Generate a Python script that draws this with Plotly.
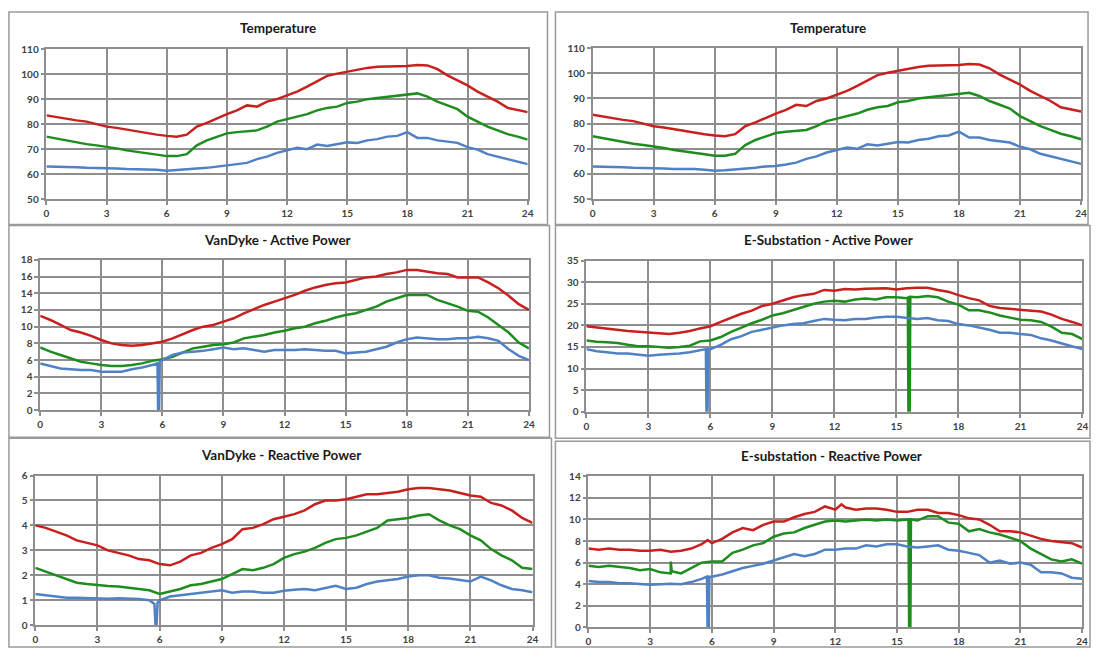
import plotly.graph_objects as go

# ---------------- data ----------------
HOURS = [i * 0.5 for i in range(49)]
X_TICKS = [0, 3, 6, 9, 12, 15, 18, 21, 24]

TEMP_RED = [83.5, 82.8, 82.0, 81.5, 81.0, 80.0, 79.0, 78.5, 77.8, 77.0, 76.3, 75.8, 75.3, 75.0, 75.8, 79.0,
            80.5, 82.3, 84.0, 85.5, 87.5, 87.0, 89.0, 90.0, 91.5, 93.0, 95.0, 97.0, 99.3, 100.2, 101.0, 102.0,
            102.5, 103.0, 103.0, 103.0, 103.3, 103.7, 103.5, 102.0, 99.5, 97.5, 95.5, 93.0, 91.0, 89.0, 86.5, 85.5, 84.8]
TEMP_GREEN = [75.0, 74.2, 73.5, 72.8, 72.0, 71.5, 71.0, 70.3, 69.5, 69.0, 68.5, 67.8, 67.2, 67.2, 68.0, 71.5,
              73.5, 75.0, 76.3, 76.8, 77.2, 77.5, 79.0, 81.0, 82.0, 83.0, 84.0, 85.5, 86.5, 87.0, 88.5, 89.0,
              90.0, 90.5, 91.0, 91.5, 92.0, 92.3, 91.0, 89.0, 87.5, 86.0, 83.0, 81.0, 79.0, 77.5, 76.0, 75.0, 73.8]
TEMP_BLUE = [63.0, 63.0, 63.0, 62.7, 62.5, 62.5, 62.5, 62.2, 62.0, 62.0, 62.0, 61.7, 61.3, 61.5, 61.8, 62.2,
             62.5, 63.0, 63.2, 63.8, 64.5, 66.0, 67.0, 68.5, 69.5, 70.5, 70.0, 71.8, 71.3, 72.0, 72.7, 72.5,
             73.5, 74.0, 75.0, 75.3, 76.8, 74.5, 74.5, 73.5, 73.0, 72.5, 70.8, 69.8, 68.0, 67.0, 66.0, 65.0, 64.0]

VDA_RED = [11.3, 10.8, 10.2, 9.6, 9.3, 8.9, 8.4, 8.0, 7.8, 7.7, 7.8, 8.0, 8.2, 8.6, 9.1, 9.6,
           10.0, 10.2, 10.6, 11.0, 11.6, 12.1, 12.6, 13.0, 13.4, 13.8, 14.3, 14.7, 15.0, 15.2, 15.3, 15.6,
           15.9, 16.0, 16.3, 16.5, 16.8, 16.8, 16.6, 16.4, 16.3, 15.9, 15.9, 15.9, 15.3, 14.6, 13.7, 12.7, 12.0]
VDA_GREEN = [7.5, 7.0, 6.6, 6.2, 5.8, 5.6, 5.4, 5.3, 5.3, 5.4, 5.6, 5.9, 6.1, 6.4, 6.9, 7.4,
             7.6, 7.8, 7.9, 8.1, 8.6, 8.8, 9.0, 9.3, 9.5, 9.8, 10.0, 10.4, 10.7, 11.1, 11.4, 11.6,
             12.0, 12.4, 13.0, 13.4, 13.8, 13.8, 13.8, 13.2, 12.8, 12.4, 11.9, 11.8, 11.1, 10.2, 9.3, 8.1, 7.4]
VDA_BLUE = [5.6, 5.3, 5.0, 4.9, 4.8, 4.8, 4.6, 4.6, 4.6, 4.9, 5.1, 5.4, 6.0, 6.6, 6.9, 7.0,
            7.1, 7.3, 7.5, 7.3, 7.4, 7.2, 7.0, 7.2, 7.2, 7.2, 7.3, 7.2, 7.1, 7.1, 6.8, 6.9,
            7.0, 7.3, 7.6, 8.1, 8.5, 8.7, 8.6, 8.5, 8.5, 8.6, 8.6, 8.8, 8.6, 8.3, 7.3, 6.5, 6.0]
VDA_BLUE_DIP = [(5.76, 5.6), (5.79, 0.0), (5.84, 0.0), (5.87, 5.8)]

ESA_RED = [19.8, 19.5, 19.2, 18.9, 18.7, 18.5, 18.3, 18.2, 18.0, 18.3, 18.7, 19.3, 19.8, 20.8, 21.8, 22.7,
           23.4, 24.5, 25.0, 25.7, 26.5, 27.0, 27.3, 28.2, 28.0, 28.4, 28.3, 28.5, 28.6, 28.6, 28.3, 28.6,
           28.7, 28.7, 28.2, 27.8, 27.0, 26.3, 25.8, 24.5, 24.0, 23.8, 23.5, 23.3, 23.2, 22.5, 21.5, 20.8, 20.0]
ESA_GREEN = [16.5, 16.2, 16.1, 15.9, 15.5, 15.2, 15.2, 15.0, 14.8, 15.0, 15.3, 16.3, 16.5, 17.3, 18.5, 19.5,
             20.5, 21.3, 22.3, 22.8, 23.5, 24.2, 25.0, 25.5, 25.7, 25.5, 26.0, 26.2, 26.0, 26.5, 26.5, 26.3,
             26.5, 26.8, 26.5, 25.5, 24.8, 23.5, 23.5, 23.0, 22.3, 21.8, 21.3, 21.2, 20.8, 19.7, 18.3, 18.0, 16.8]
ESA_GREEN_DIP = [(15.55, 26.4), (15.58, 0.0), (15.64, 0.0), (15.67, 26.6)]
ESA_BLUE = [14.5, 14.0, 13.8, 13.5, 13.5, 13.3, 13.0, 13.2, 13.3, 13.5, 13.8, 14.2, 14.5, 15.5, 16.8, 17.5,
            18.5, 19.0, 19.5, 20.0, 20.3, 20.5, 21.0, 21.5, 21.3, 21.2, 21.5, 21.5, 21.8, 22.0, 22.0, 21.8,
            21.5, 21.7, 21.2, 21.0, 20.3, 20.0, 19.5, 19.0, 18.3, 18.3, 18.0, 17.8, 17.0, 16.5, 15.8, 15.2, 14.5]
ESA_BLUE_DIP = [(5.78, 14.5), (5.81, 0.0), (5.86, 0.0), (5.9, 14.6)]

VDR_RED = [4.0, 3.9, 3.75, 3.6, 3.4, 3.3, 3.2, 3.0, 2.9, 2.8, 2.65, 2.6, 2.45, 2.4, 2.55, 2.8,
           2.9, 3.1, 3.25, 3.45, 3.85, 3.9, 4.05, 4.25, 4.35, 4.45, 4.6, 4.85, 5.0, 5.0, 5.05, 5.15,
           5.25, 5.25, 5.3, 5.35, 5.45, 5.5, 5.5, 5.45, 5.4, 5.3, 5.2, 5.15, 4.9, 4.8, 4.6, 4.3, 4.1]
VDR_GREEN = [2.3, 2.15, 2.0, 1.85, 1.7, 1.65, 1.6, 1.57, 1.55, 1.5, 1.47, 1.4, 1.25, 1.35, 1.45, 1.6,
             1.65, 1.75, 1.85, 2.05, 2.25, 2.2, 2.3, 2.45, 2.7, 2.85, 2.95, 3.1, 3.3, 3.45, 3.5, 3.6,
             3.75, 3.9, 4.2, 4.25, 4.3, 4.4, 4.45, 4.2, 4.0, 3.85, 3.6, 3.4, 3.05, 2.8, 2.6, 2.3, 2.25]
VDR_BLUE = [1.25, 1.2, 1.15, 1.1, 1.1, 1.08, 1.05, 1.06, 1.08, 1.08, 1.05, 1.0, 1.0, 1.15, 1.2, 1.25,
            1.3, 1.33, 1.4, 1.3, 1.35, 1.35, 1.3, 1.3, 1.38, 1.42, 1.45, 1.4, 1.5, 1.58, 1.45, 1.5,
            1.65, 1.75, 1.8, 1.85, 1.95, 2.0, 2.0, 1.9, 1.87, 1.8, 1.75, 1.95, 1.8, 1.6, 1.45, 1.4, 1.32]
VDR_BLUE_DIP = [(5.75, 0.85), (5.8, 0.0), (5.85, 0.0), (5.9, 0.9)]

ESR_RED = [7.3, 7.2, 7.3, 7.2, 7.2, 7.1, 7.1, 7.2, 7.0, 7.1, 7.3, 7.7, 7.8, 8.2, 8.8, 9.2,
           9.0, 9.5, 9.8, 9.8, 10.2, 10.5, 10.7, 11.2, 10.9, 11.1, 10.9, 11.0, 11.0, 10.9, 10.7, 10.7,
           10.9, 10.9, 10.6, 10.6, 10.4, 10.1, 10.0, 9.5, 8.9, 8.9, 8.8, 8.5, 8.2, 8.0, 7.9, 7.8, 7.4]
ESR_RED_PEAKS = [(5.8, 8.1), (12.3, 11.4)]
ESR_GREEN = [5.7, 5.6, 5.7, 5.6, 5.5, 5.3, 5.4, 5.1, 5.0, 5.0, 5.5, 6.0, 6.1, 6.1, 6.9, 7.2,
             7.6, 7.8, 8.4, 8.7, 8.8, 9.2, 9.5, 9.8, 9.9, 9.8, 9.9, 10.0, 9.9, 10.0, 9.9, 10.0,
             9.9, 10.3, 10.3, 9.7, 9.6, 8.9, 9.1, 8.8, 8.6, 8.3, 8.0, 7.3, 6.8, 6.3, 6.1, 6.3, 5.9]
ESR_GREEN_DIP = [(3.95, 5.0), (4.0, 6.1), (4.05, 5.2), (15.56, 10.0), (15.59, 0.0), (15.65, 0.0), (15.68, 10.0)]
ESR_BLUE = [4.3, 4.2, 4.2, 4.1, 4.1, 4.0, 3.95, 4.0, 4.05, 4.0, 4.2, 4.5, 4.7, 4.9, 5.2, 5.5,
            5.7, 5.9, 6.2, 6.5, 6.8, 6.6, 6.8, 7.2, 7.2, 7.3, 7.3, 7.6, 7.5, 7.7, 7.7, 7.5,
            7.4, 7.5, 7.6, 7.2, 7.1, 6.9, 6.7, 6.0, 6.2, 5.9, 6.0, 5.8, 5.1, 5.1, 5.0, 4.6, 4.5]
ESR_BLUE_DIP = [(5.76, 4.7), (5.79, 0.0), (5.85, 0.0), (5.88, 4.7)]

RED = "#C8201E"
GREEN = "#1E8C1E"
BLUE = "#4F81C4"


def merged(values, extra=()):
    pts = list(zip(HOURS, values)) + list(extra)
    pts.sort(key=lambda p: p[0])
    return [p[0] for p in pts], [p[1] for p in pts]


PANELS = [
    # title, series, y range, dtick, x domain(px), y domain(px), title pos(px), frame(px)
    dict(title="Temperature",
         series=[(TEMP_RED, (), RED), (TEMP_GREEN, (), GREEN), (TEMP_BLUE, (), BLUE)],
         yr=[50, 110], dt=10, xd=(43.8, 529), yd=(196, 43), tp=(277, 21), fr=(6, 5, 549, 222)),
    dict(title="Temperature",
         series=[(TEMP_RED, (), RED), (TEMP_GREEN, (), GREEN), (TEMP_BLUE, (), BLUE)],
         yr=[50, 110], dt=10, xd=(594.5, 1087), yd=(196, 42), tp=(832, 21), fr=(557, 5, 1094, 222)),
    dict(title="VanDyke - Active Power",
         series=[(VDA_RED, (), RED), (VDA_GREEN, (), GREEN), (VDA_BLUE, VDA_BLUE_DIP, BLUE)],
         yr=[0, 18], dt=2, xd=(37.5, 530.3), yd=(411.3, 258), tp=(277, 238), fr=(6, 223, 551, 439)),
    dict(title="E-Substation - Active Power",
         series=[(ESA_RED, (), RED), (ESA_GREEN, ESA_GREEN_DIP, GREEN), (ESA_BLUE, ESA_BLUE_DIP, BLUE)],
         yr=[0, 35], dt=5, xd=(588.2, 1088.4), yd=(413, 258.7), tp=(832, 238), fr=(557, 223, 1096, 440)),
    dict(title="VanDyke - Reactive Power",
         series=[(VDR_RED, (), RED), (VDR_GREEN, (), GREEN), (VDR_BLUE, VDR_BLUE_DIP, BLUE)],
         yr=[0, 6], dt=1, xd=(32.6, 533.9), yd=(630.7, 478), tp=(280, 457), fr=(6, 440, 553, 653)),
    dict(title="E-substation - Reactive Power",
         series=[(ESR_RED, ESR_RED_PEAKS, RED), (ESR_GREEN, ESR_GREEN_DIP, GREEN), (ESR_BLUE, ESR_BLUE_DIP, BLUE)],
         yr=[0, 14], dt=2, xd=(590.3, 1088), yd=(633, 478.7), tp=(835, 458), fr=(557, 443, 1096, 653)),
]

W, H = 1099, 655
FONT = "Lato, Carlito, Calibri, sans-serif"
GRID = "#8e8e8e"

fig = go.Figure()
layout = dict(width=W, height=H, margin=dict(l=0, r=0, t=0, b=0),
              paper_bgcolor="white", plot_bgcolor="white", showlegend=False,
              annotations=[], shapes=[])

for i, p in enumerate(PANELS):
    n = "" if i == 0 else str(i + 1)
    xa, ya = "x" + n, "y" + n
    for vals, extra, col in p["series"]:
        xs, ys = merged(vals, extra)
        fig.add_trace(go.Scatter(x=xs, y=ys, mode="lines", xaxis=xa, yaxis=ya,
                                 line=dict(color=col, width=2.5), hoverinfo="skip"))
    common = dict(showgrid=True, gridcolor=GRID, gridwidth=1.5, showline=True, linecolor=GRID,
                  linewidth=1.5, mirror=True, ticks="outside", ticklen=4, tickcolor=GRID, tickwidth=1.5,
                  zeroline=False, fixedrange=True,
                  tickfont=dict(family=FONT, size=10, color="#404040", weight="bold"))
    layout["xaxis" + n] = dict(common, domain=[p["xd"][0] / W, p["xd"][1] / W], range=[0, 24],
                               tickvals=X_TICKS, anchor=ya)
    layout["yaxis" + n] = dict(common, domain=[1 - p["yd"][0] / H, 1 - p["yd"][1] / H],
                               range=p["yr"], dtick=p["dt"], tick0=0, anchor=xa)
    layout["annotations"].append(dict(text=p["title"], x=p["tp"][0] / W, y=1 - p["tp"][1] / H,
                                      xref="paper", yref="paper", showarrow=False,
                                      xanchor="center", yanchor="middle",
                                      font=dict(family=FONT, size=13.5, color="#1a1a1a", weight="bold")))
    x0, y0, x1, y1 = p["fr"]
    layout["shapes"].append(dict(type="rect", xref="paper", yref="paper",
                                 x0=x0 / W, x1=x1 / W, y0=1 - y1 / H, y1=1 - y0 / H,
                                 line=dict(color="#9a9a9a", width=1.5), fillcolor="rgba(0,0,0,0)",
                                 layer="below"))

fig.update_layout(**layout)
fig.write_html("out.html")
